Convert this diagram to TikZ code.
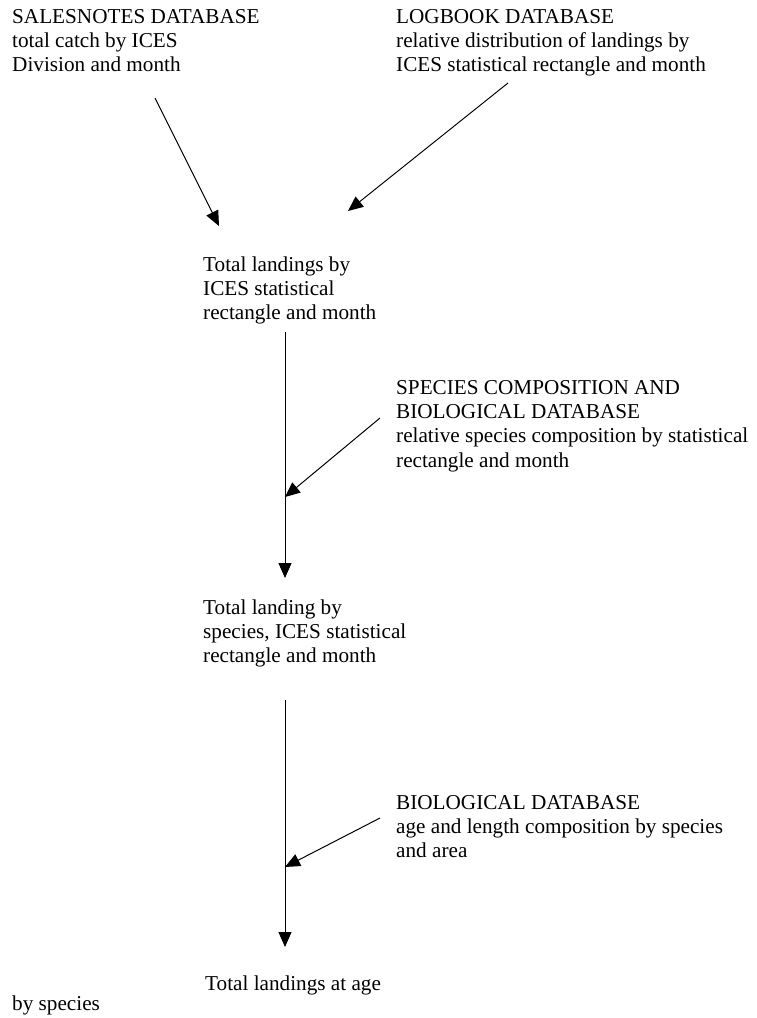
\documentclass[tikz,border=0pt]{standalone}
\usepackage{fontspec}
\setmainfont{Liberation Serif}
\usetikzlibrary{arrows.meta}

\begin{document}
\begin{tikzpicture}[x=1pt, y=-1pt,
    txt/.style={anchor=base west, align=left, inner sep=0pt, font=\fontsize{21.2}{24.4}\selectfont},
    flow/.style={-{Triangle[length=15pt, width=13pt]}, line width=1pt}]
  \useasboundingbox (0,0) rectangle (756,1018);
  % sources (anchored at the baseline of their last line)
  \node[txt] (sales) at (12,71.8) {SALESNOTES DATABASE\\total catch by ICES\\Division and month};
  \node[txt] (logbook) at (396,71.8) {LOGBOOK DATABASE\\relative distribution of landings by\\ICES statistical rectangle and month};
  \node[txt] (speccomp) at (396,467.2) {SPECIES COMPOSITION AND\\BIOLOGICAL DATABASE\\relative species composition by statistical\\rectangle and month};
  \node[txt] (bio) at (396,857.8) {BIOLOGICAL DATABASE\\age and length composition by species\\and area};
  % results
  \node[txt] (totrect) at (203,319.8) {Total landings by\\ICES statistical\\rectangle and month};
  \node[txt] (totspec) at (203,662.8) {Total landing by\\species, ICES statistical\\rectangle and month};
  \node[txt] (totage) at (205,990) {Total landings at age};
  \node[txt] (byspec) at (12,1010) {by species};
  % arrow ends
  \coordinate (salesout) at (155,98);
  \coordinate (salesin) at (219,226);
  \coordinate (logout) at (508,83);
  \coordinate (login) at (348,211);
  \coordinate (rectout) at (285,332);
  \coordinate (specin) at (285,578);
  \coordinate (compout) at (380,418);
  \coordinate (compin) at (285,497);
  \coordinate (specout) at (285,700);
  \coordinate (agein) at (285,947);
  \coordinate (bioout) at (380,818);
  \coordinate (bioin) at (285,867);
  \draw[flow] (salesout) -- (salesin);
  \draw[flow] (logout) -- (login);
  \draw[flow] (rectout) -- (specin);
  \draw[flow] (compout) -- (compin);
  \draw[flow] (specout) -- (agein);
  \draw[flow] (bioout) -- (bioin);
\end{tikzpicture}
\end{document}
